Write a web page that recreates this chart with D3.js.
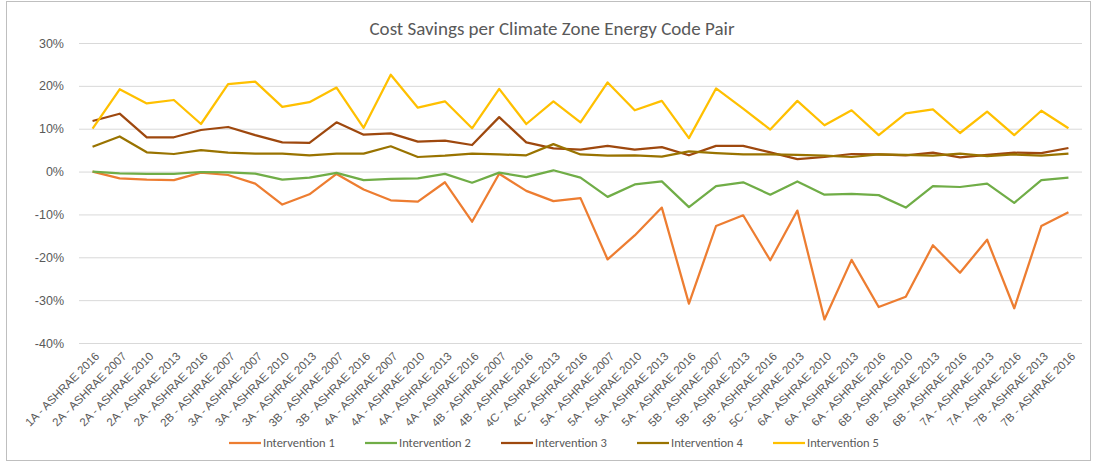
<!DOCTYPE html>
<html>
<head>
<meta charset="utf-8">
<script src="https://cdn.jsdelivr.net/npm/d3@7"></script>
<style>
  body { margin: 0; background: #fff; }
  svg { display: block; font-family: Carlito, Calibri, 'Liberation Sans', sans-serif; }
</style>
</head>
<body>
<script>
// Categories: climate zone - energy code pairs
const categories = [
    '1A - ASHRAE 2016', '2A - ASHRAE 2007', '2A - ASHRAE 2010', '2A - ASHRAE 2013', '2A - ASHRAE 2016',
    '2B - ASHRAE 2007', '3A - ASHRAE 2007', '3A - ASHRAE 2010', '3A - ASHRAE 2013', '3B - ASHRAE 2007',
    '3B - ASHRAE 2016', '4A - ASHRAE 2007', '4A - ASHRAE 2010', '4A - ASHRAE 2013', '4A - ASHRAE 2016',
    '4B - ASHRAE 2007', '4B - ASHRAE 2016', '4C - ASHRAE 2013', '4C - ASHRAE 2016', '5A - ASHRAE 2007',
    '5A - ASHRAE 2010', '5A - ASHRAE 2013', '5A - ASHRAE 2016', '5B - ASHRAE 2007', '5B - ASHRAE 2013',
    '5B - ASHRAE 2016', '5C - ASHRAE 2013', '6A - ASHRAE 2010', '6A - ASHRAE 2013', '6A - ASHRAE 2016',
    '6B - ASHRAE 2010', '6B - ASHRAE 2013', '6B - ASHRAE 2016', '7A - ASHRAE 2013', '7A - ASHRAE 2016',
    '7B - ASHRAE 2013', '7B - ASHRAE 2016'
];

// Cost savings, percent
const intervention1 = [0, -1.6, -1.9, -2.0, -0.25, -0.8, -2.8, -7.7, -5.3, -0.55, -4.2, -6.7, -7.0, -2.5, -11.7,
    -0.5, -4.5, -6.9, -6.2, -20.5, -14.9, -8.4, -30.8, -12.7, -10.2, -20.7, -9.1, -34.5, -20.6, -31.6,
    -29.2, -17.2, -23.6, -15.9, -31.9, -12.7, -9.5];
const intervention2 = [0, -0.4, -0.55, -0.55, -0.1, -0.2, -0.5, -1.9, -1.4, -0.3, -2.0, -1.7, -1.6, -0.55, -2.6,
    -0.25, -1.3, 0.3, -1.4, -5.9, -3.0, -2.3, -8.3, -3.4, -2.5, -5.4, -2.3, -5.4, -5.2, -5.5,
    -8.4, -3.4, -3.6, -2.8, -7.3, -2.0, -1.4];
const intervention3 = [11.8, 13.5, 8.0, 8.0, 9.7, 10.4, 8.5, 6.8, 6.7, 11.5, 8.6, 8.9, 7.0, 7.2, 6.2,
    12.7, 6.8, 5.4, 5.1, 6.0, 5.1, 5.7, 3.8, 6.0, 6.0, 4.5, 2.9, 3.4, 4.1, 4.0,
    3.8, 4.4, 3.3, 3.9, 4.4, 4.3, 5.5];
const intervention4 = [5.8, 8.2, 4.5, 4.1, 5.0, 4.4, 4.2, 4.2, 3.8, 4.2, 4.2, 5.9, 3.4, 3.7, 4.2,
    4.0, 3.8, 6.4, 4.0, 3.7, 3.8, 3.5, 4.7, 4.3, 4.0, 4.0, 3.9, 3.7, 3.4, 4.0,
    3.9, 3.7, 4.2, 3.6, 4.0, 3.7, 4.2];
const intervention5 = [10.0, 19.2, 15.9, 16.7, 11.1, 20.4, 21.0, 15.1, 16.2, 19.6, 10.2, 22.6, 14.9, 16.4, 10.1,
    19.3, 11.1, 16.4, 11.5, 20.8, 14.3, 16.5, 7.8, 19.4, 14.7, 9.8, 16.5, 10.8, 14.3, 8.5,
    13.6, 14.5, 9.0, 14.0, 8.5, 14.2, 10.1];

const seriesNames = ['Intervention 1', 'Intervention 2', 'Intervention 3', 'Intervention 4', 'Intervention 5'];
const seriesValues = [intervention1, intervention2, intervention3, intervention4, intervention5];
const yTicks = [30, 20, 10, 0, -10, -20, -30, -40];

const width = 1094, height = 463;
const marginLeft = 79, marginRight = 12, marginTop = 43, plotBottom = 343;
const colors = ['#ED7D31', '#70AD47', '#9E480E', '#997300', '#FFC000'];

const x = d3.scalePoint().domain(categories).range([marginLeft, width - marginRight]).padding(0.5);
const y = d3.scaleLinear().domain([-40, 30]).range([plotBottom, marginTop]);

const svg = d3.select('body').append('svg')
    .attr('width', width)
    .attr('height', height)
    .attr('viewBox', [0, 0, width, height]);

// outer frame
svg.append('rect')
    .attr('x', 6.5).attr('y', 1.5)
    .attr('width', width - 10).attr('height', height - 4)
    .attr('fill', 'none')
    .attr('stroke', '#bfbfbf');

svg.append('text')
    .attr('x', 552)
    .attr('y', 35)
    .attr('text-anchor', 'middle')
    .attr('fill', '#595959')
    .attr('font-size', 19)
    .text('Cost Savings per Climate Zone Energy Code Pair');

// y axis with gridlines
svg.append('g')
    .attr('transform', `translate(${marginLeft},0)`)
    .call(d3.axisLeft(y).tickValues(yTicks).tickFormat(d => d + '%').tickSize(0).tickPadding(15))
    .call(g => g.select('.domain').remove())
    .call(g => g.selectAll('.tick text').attr('fill', '#595959').attr('font-size', 12.5).attr('font-family', null))
    .call(g => g.selectAll('.tick line').clone()
        .attr('stroke', '#d9d9d9')
        .attr('x2', width - marginLeft - marginRight));

// x axis labels, rotated
svg.append('g')
    .attr('transform', `translate(0,${plotBottom})`)
    .call(d3.axisBottom(x).tickSize(0).tickPadding(0))
    .call(g => g.select('.domain').remove())
    .call(g => g.selectAll('.tick text')
        .attr('fill', '#595959')
        .attr('font-size', 11.5)
        .attr('font-family', null)
        .attr('text-anchor', 'end')
        .attr('dy', null)
        .attr('y', 0)
        .attr('transform', 'translate(7,14) rotate(-45)'));

const line = d3.line()
    .x((d, i) => x(categories[i]))
    .y(d => y(d));

svg.append('g')
    .selectAll('path')
    .data(seriesValues)
    .join('path')
    .attr('fill', 'none')
    .attr('stroke', (d, i) => colors[i])
    .attr('stroke-width', 2.25)
    .attr('stroke-linejoin', 'round')
    .attr('d', line);

// legend
const legend = svg.append('g')
    .selectAll('g')
    .data(seriesNames)
    .join('g')
    .attr('transform', (d, i) => `translate(${229 + i * 136},443)`);

legend.append('line')
    .attr('x1', 0).attr('x2', 32)
    .attr('stroke', (d, i) => colors[i])
    .attr('stroke-width', 2.25);

legend.append('text')
    .attr('x', 34)
    .attr('dy', '0.35em')
    .attr('fill', '#595959')
    .attr('font-size', 12.5)
    .text(d => d);
</script>
</body>
</html>
